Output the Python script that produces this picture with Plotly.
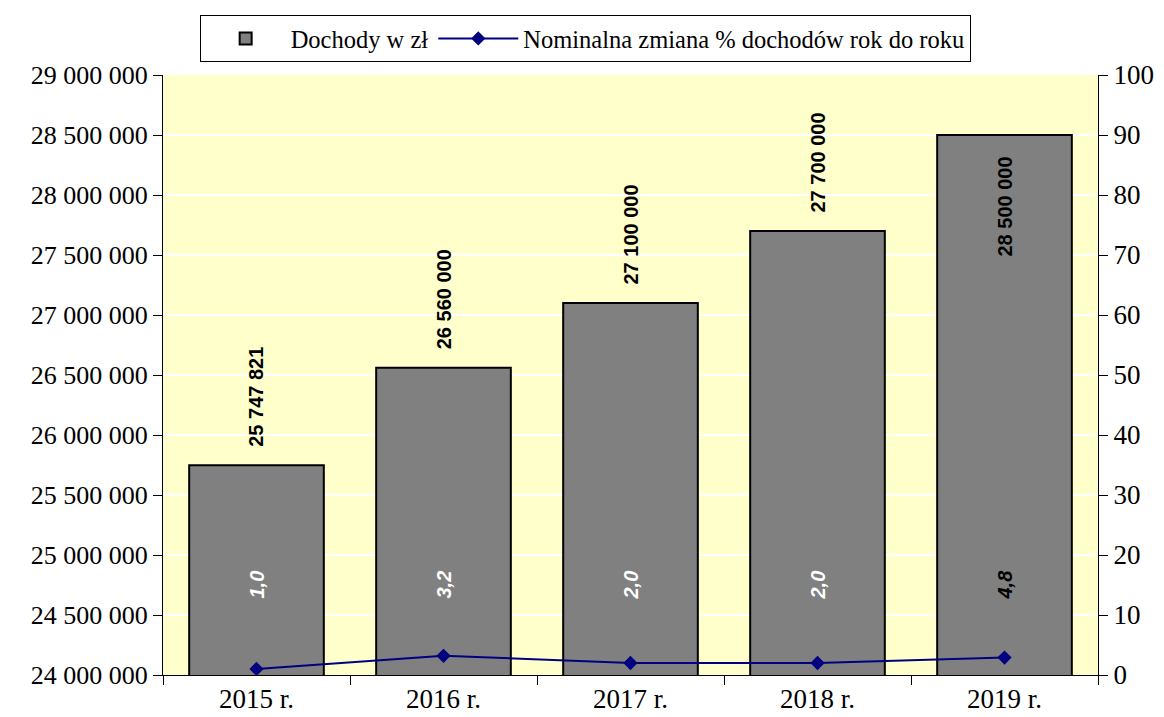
import plotly.graph_objects as go

years = ["2015 r.", "2016 r.", "2017 r.", "2018 r.", "2019 r."]
income = [25747821, 26560000, 27100000, 27700000, 28500000]
income_labels = ["25 747 821", "26 560 000", "27 100 000", "27 700 000", "28 500 000"]
change_pct = [1.0, 3.2, 2.0, 2.0, 2.9]
change_labels = ["1,0", "3,2", "2,0", "2,0", "4,8"]
change_label_colors = ["white", "white", "white", "white", "black"]
income_label_inside = [False, False, False, False, True]

serif = "Liberation Serif, Times New Roman, serif"
sans = "Liberation Sans, Arial, sans-serif"

fig = go.Figure()
fig.add_trace(go.Bar(
    x=years, y=income, name="Dochody w zł",
    marker=dict(color="#808080", line=dict(color="black", width=2)),
    width=0.72,
))
fig.add_trace(go.Scatter(
    x=years, y=change_pct, name="Nominalna zmiana % dochodów rok do roku",
    yaxis="y2", mode="lines+markers",
    line=dict(color="#000080", width=2),
    marker=dict(symbol="diamond", size=11, color="#000080"),
))

for yr, val, lab, inside in zip(years, income, income_labels, income_label_inside):
    fig.add_annotation(
        x=yr, y=val, xref="x", yref="y", text=lab, textangle=-90,
        showarrow=False,
        yanchor="top" if inside else "bottom",
        yshift=-20 if inside else 16,
        font=dict(family=sans, size=20, color="black", weight="bold"),
    )

for yr, lab, col in zip(years, change_labels, change_label_colors):
    fig.add_annotation(
        x=yr, y=15, xref="x", yref="y2", text=lab, textangle=-90,
        showarrow=False,
        font=dict(family=sans, size=20, color=col, weight="bold", style="italic"),
    )

fig.update_layout(
    width=1164, height=717,
    margin=dict(l=155, r=74, t=67, b=50, autoexpand=False),
    paper_bgcolor="white",
    plot_bgcolor="#FFFFCC",
    separators=", ",
    showlegend=True,
    legend=dict(
        orientation="h", x=0.4515, xanchor="center",
        y=1.1, yanchor="top",
        bgcolor="white", bordercolor="black", borderwidth=1,
        font=dict(family=serif, size=24.5, color="black"),
        itemwidth=80,
    ),
    xaxis=dict(
        showline=True, linecolor="black", linewidth=1,
        ticks="outside", ticklen=9, tickcolor="black", tickson="boundaries",
        tickfont=dict(family=serif, size=27, color="black"),
        showgrid=False, automargin=False,
    ),
    yaxis=dict(
        range=[24000000, 29000000], dtick=500000, tickformat=",.0f",
        showline=True, linecolor="black", linewidth=1,
        ticks="outside", ticklen=9, tickcolor="black",
        tickfont=dict(family=serif, size=26, color="black"),
        showgrid=True, gridcolor="white", gridwidth=1.5, zeroline=False,
        automargin=False,
    ),
    yaxis2=dict(
        range=[0, 100], dtick=10, overlaying="y", side="right",
        showline=True, linecolor="black", linewidth=1,
        ticks="outside", ticklen=9, tickcolor="black",
        tickfont=dict(family=serif, size=27, color="black"),
        showgrid=False, zeroline=False, automargin=False,
    ),
)

fig.write_html("out.html")
